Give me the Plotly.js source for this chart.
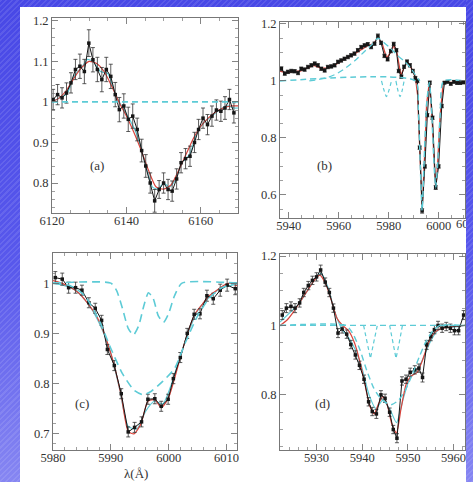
<!DOCTYPE html>
<html><head><meta charset="utf-8">
<script src="https://cdn.plot.ly/plotly-3.0.1.min.js"></script>
<style>
html,body{margin:0;padding:0;width:473px;height:482px;overflow:hidden;}
.blue{background:
 repeating-linear-gradient(135deg, rgba(255,255,255,0.10) 0 1.5px, rgba(255,255,255,0) 1.5px 4px),
 linear-gradient(to bottom, #4848e6 0%, #5858ec 55%, #8686f2 100%);}
#bg{position:absolute;left:0;top:0;width:473px;height:482px;}
#white{position:absolute;left:20px;top:7px;width:446px;height:475px;background:#fff;}
#plot{position:absolute;left:0;top:0;width:473px;height:482px;}
#rband{position:absolute;left:466px;top:0;width:7px;height:482px;z-index:10;}
</style>
</head><body>
<div id="bg" class="blue"></div>
<div id="white"></div>
<div id="plot"></div>
<div id="rband" class="blue"></div>
<script>
// ---- Panel (a) ----
const aLam=[6120.3,6121.5,6122.7,6123.9,6125.1,6126.3,6127.5,6128.7,6129.9,6131.0,6132.2,6133.4,6134.6,6135.8,6137.0,6138.1,6139.3,6140.5,6141.7,6142.9,6144.1,6145.2,6146.4,6147.6,6148.8,6150.0,6151.2,6152.3,6153.5,6154.7,6155.9,6157.1,6158.3,6159.4,6160.6,6161.8,6163.0,6164.2,6165.4,6166.5,6167.7,6168.9];
const aFlux=[1.006,1.018,1.01,1.022,1.047,1.08,1.088,1.075,1.145,1.104,1.08,1.055,1.08,1.063,1.018,0.981,0.99,0.957,0.965,0.932,0.88,0.842,0.80,0.756,0.784,0.80,0.784,0.78,0.81,0.85,0.86,0.866,0.90,0.932,0.96,0.944,0.965,0.98,0.977,0.985,1.006,0.973];
const aErr=[0.025,0.025,0.025,0.025,0.025,0.025,0.03,0.03,0.033,0.03,0.03,0.03,0.03,0.03,0.03,0.03,0.03,0.03,0.03,0.028,0.028,0.028,0.025,0.028,0.022,0.025,0.025,0.025,0.025,0.025,0.025,0.025,0.025,0.025,0.025,0.025,0.025,0.025,0.025,0.028,0.025,0.025];
const aRedLam=[6120,6122,6124,6126,6128,6130,6132,6134,6136,6138,6140,6142,6144,6146,6148,6150,6152,6154,6156,6158,6160,6162,6164,6166,6168,6170];
const aRed=[1.0,1.01,1.03,1.06,1.085,1.10,1.095,1.075,1.04,1.0,0.965,0.925,0.88,0.83,0.79,0.785,0.795,0.83,0.87,0.91,0.94,0.96,0.975,0.985,0.99,0.99];
const aCyanLam=[6120,6122,6124,6126,6128,6129.5,6131,6133,6135,6137,6139,6141,6143,6145,6147,6148.5,6150,6151.5,6153,6155,6157,6159,6161,6163,6165,6167,6169,6170];
const aCyan=[1.0,1.01,1.02,1.065,1.085,1.105,1.1,1.075,1.07,1.02,0.985,0.955,0.915,0.85,0.79,0.785,0.80,0.79,0.805,0.85,0.87,0.925,0.95,0.965,0.98,0.99,0.985,0.985];
const aContLam=[6120,6170];
const aCont=[1.0,1.0];

// ---- Panel (b) ----
const bLam=[5937.04,5938.40,5939.66,5941.01,5942.37,5943.72,5944.98,5946.34,5947.69,5949.04,5950.40,5951.66,5953.01,5954.37,5955.63,5956.98,5958.34,5959.69,5960.96,5962.31,5963.66,5964.93,5966.28,5967.63,5968.99,5970.34,5971.60,5972.96,5974.31,5975.66,5976.93,5978.28,5979.54,5980.81,5981.98,5983.06,5983.97,5985.05,5986.13,5987.31,5988.48,5989.65,5990.64,5991.46,5992.36,5993.35,5994.44,5995.43,5996.42,5997.50,5998.77,5999.94,6001.20,6002.29,6003.55,6004.81,6006.08,6007.34,6008.60,6009.87];
const bFlux=[1.043,1.026,1.032,1.035,1.034,1.028,1.043,1.04,1.049,1.055,1.061,1.055,1.043,1.037,1.049,1.051,1.055,1.067,1.072,1.078,1.084,1.09,1.096,1.108,1.119,1.125,1.129,1.119,1.131,1.158,1.134,1.088,1.076,1.105,1.13,1.108,1.035,1.015,1.05,1.068,1.055,1.035,1.01,1.0,0.766,0.544,0.70,0.88,0.994,0.871,0.626,0.70,0.912,0.994,0.997,0.99,0.997,0.993,0.993,0.995];
const bErr=[0.007,0.006,0.006,0.006,0.006,0.006,0.006,0.006,0.006,0.006,0.006,0.006,0.006,0.006,0.006,0.006,0.006,0.006,0.006,0.006,0.006,0.006,0.006,0.006,0.006,0.006,0.006,0.006,0.006,0.007,0.006,0.006,0.006,0.006,0.006,0.006,0.006,0.006,0.006,0.006,0.006,0.006,0.006,0.006,0.006,0.008,0.006,0.006,0.006,0.006,0.007,0.006,0.006,0.005,0.005,0.005,0.005,0.005,0.005,0.005];
const bRedLam=[5936.5,5939.21,5941.91,5944.62,5947.33,5950.04,5952.74,5955.45,5958.16,5960.86,5963.57,5966.28,5968.99,5971.69,5973.95,5975.75,5977.56,5979.18,5980.72,5982.07,5983.24,5984.87,5986.31,5987.40,5989.02,5990.64,5991.55,5992.45,5993.35,5994.26,5995.16,5996.24,5997.33,5998.14,5998.77,5999.49,6000.57,6001.74,6002.83,6010.5];
const bRed=[1.035,1.028,1.033,1.035,1.045,1.055,1.045,1.045,1.055,1.07,1.083,1.095,1.11,1.125,1.13,1.155,1.125,1.08,1.1,1.125,1.1,1.02,1.05,1.065,1.045,1.015,0.95,0.73,0.55,0.72,0.92,0.995,0.87,0.72,0.625,0.70,0.88,0.99,0.995,0.995];
const bContLam=[5936.5,5990.64,5991.82,5992.63,5993.35,5994.07,5995.16,5996.24,5997.23,5998.05,5998.77,5999.49,6000.57,6001.92,6010.5];
const bCont=[1.0,1.0,0.9,0.7,0.545,0.7,0.92,0.995,0.88,0.72,0.625,0.70,0.88,1.0,1.0];
const bEmLam=[5948.23,5951.84,5955.45,5959.06,5962.67,5966.28,5969.89,5973.50,5975.75,5978.01,5980.72,5983.42,5986.13,5988.84,5991.10,5992.45];
const bEm=[1.0,1.005,1.012,1.025,1.045,1.07,1.10,1.13,1.15,1.135,1.115,1.09,1.07,1.045,1.015,1.0];
const bDip1Lam=[5977.11,5978.01,5979.09,5980.18,5981.08];
const bDip1=[1.0,0.97,0.945,0.97,1.0];
const bDip2Lam=[5982.88,5983.70,5984.51,5985.32,5986.13];
const bDip2=[1.0,0.965,0.945,0.965,1.0];
const bCutLabel='6020';

// ---- Panel (c) ----
const cLam=[5980.4,5981.6,5982.7,5983.9,5985.0,5986.2,5987.3,5988.4,5989.4,5990.6,5991.8,5993.0,5994.1,5995.3,5996.4,5997.6,5998.7,5999.9,6000.8,6002.0,6003.2,6004.4,6005.4,6006.6,6007.7,6008.9,6010.1,6011.5];
const cFlux=[1.011,1.008,0.991,0.991,0.986,0.961,0.95,0.926,0.868,0.836,0.78,0.704,0.713,0.724,0.769,0.77,0.755,0.769,0.81,0.852,0.9,0.938,0.939,0.975,0.969,0.986,0.996,0.989];
const cErr=[0.012,0.012,0.011,0.011,0.01,0.01,0.01,0.01,0.01,0.01,0.01,0.01,0.01,0.01,0.01,0.01,0.01,0.01,0.01,0.01,0.01,0.01,0.01,0.011,0.011,0.012,0.012,0.012];
const cRedLam=[5980,5981.5,5983,5984.5,5986,5987.5,5989,5990.5,5991.8,5993,5994,5995.2,5996.4,5997.6,5998.7,5999.9,6001,6002.2,6003.4,6004.6,6005.8,6007,6008.2,6009.4,6010.5,6011.8];
const cRed=[1.005,1.0,0.992,0.98,0.96,0.935,0.895,0.84,0.775,0.705,0.70,0.72,0.765,0.768,0.752,0.77,0.81,0.86,0.905,0.94,0.958,0.975,0.985,0.995,1.0,0.995];
const cCyanLam=[5980,5982,5984,5986,5988,5990,5991.5,5993,5994.5,5996,5997.5,5999,6000.5,6002,6003.5,6005,6007,6009,6011.8];
const cCyan=[1.0,0.995,0.985,0.96,0.92,0.86,0.79,0.715,0.71,0.745,0.765,0.76,0.80,0.855,0.905,0.945,0.972,0.99,0.998];
const cBroadLam=[5980,5983,5985.5,5988,5990,5992,5994,5995.6,5997,5999,6001,6003,6005,6007,6009,6011.8];
const cBroad=[1.0,0.995,0.975,0.925,0.87,0.82,0.787,0.778,0.785,0.805,0.83,0.885,0.935,0.97,0.99,1.0];
const cNarrowLam=[5980,5990,5991,5992,5993,5993.9,5994.8,5995.7,5996.5,5997.3,5998.2,5999.1,6000,6001,6002.3,6011.8];
const cNarrow=[1.0,1.0,0.985,0.95,0.91,0.897,0.915,0.955,0.981,0.97,0.935,0.922,0.94,0.975,1.0,1.0];

// ---- Panel (d) ----
const dLam=[5922.5,5923.4,5924.4,5925.3,5926.3,5927.2,5928.2,5929.1,5930.0,5930.9,5931.9,5932.8,5933.7,5934.7,5935.6,5936.6,5937.5,5938.5,5939.4,5940.4,5941.4,5942.2,5943.1,5944.1,5945.0,5946.0,5946.8,5947.6,5948.7,5949.6,5950.5,5951.5,5952.4,5953.2,5954.1,5955.0,5955.8,5956.6,5957.5,5958.4,5959.3,5960.2,5961.1,5962.2];
const dFlux=[1.03,1.05,1.055,1.05,1.065,1.095,1.115,1.13,1.14,1.16,1.125,1.095,1.05,0.978,0.99,0.975,0.945,0.915,0.885,0.845,0.78,0.752,0.745,0.80,0.79,0.75,0.70,0.675,0.84,0.845,0.865,0.872,0.877,0.85,0.944,0.968,0.988,1.0,0.992,0.997,0.992,0.985,0.985,1.03];
const dErr=[0.013,0.013,0.013,0.013,0.012,0.012,0.012,0.012,0.012,0.014,0.012,0.012,0.012,0.013,0.012,0.012,0.012,0.012,0.012,0.012,0.012,0.012,0.013,0.012,0.012,0.012,0.012,0.013,0.012,0.012,0.012,0.012,0.012,0.013,0.013,0.012,0.012,0.012,0.012,0.012,0.012,0.012,0.012,0.013];
const dRedLam=[5922,5923.5,5925,5926.5,5928,5929.5,5930.7,5932,5933.3,5934.5,5935.7,5937,5938.3,5939.5,5940.6,5941.6,5942.6,5943.6,5944.5,5945.5,5946.5,5947.5,5948.5,5949.6,5950.8,5952,5953.2,5954.4,5955.6,5957,5959,5962.5];
const dRed=[1.0,1.015,1.04,1.07,1.1,1.13,1.145,1.12,1.07,1.02,1.0,0.985,0.95,0.895,0.83,0.77,0.745,0.775,0.795,0.77,0.715,0.69,0.76,0.83,0.855,0.865,0.9,0.945,0.975,0.99,0.995,1.0];
const dCyanLam=[5922,5924,5926,5928,5930,5931,5932.5,5934,5935.5,5937,5938.5,5940,5941.5,5943,5944.5,5946,5947.5,5949,5950.5,5952,5953.5,5955,5956.5,5958,5960,5962.5];
const dCyan=[1.01,1.035,1.06,1.1,1.14,1.15,1.11,1.04,0.99,0.965,0.93,0.875,0.8,0.76,0.785,0.76,0.72,0.79,0.85,0.87,0.91,0.955,0.985,0.995,0.995,1.0];
const dBroadLam=[5922,5936.5,5938,5939.5,5941,5942.5,5944,5945.5,5946.5,5948,5949.5,5951,5952.5,5954,5955.5,5957,5962.5];
const dBroad=[1.0,1.0,0.975,0.93,0.87,0.82,0.79,0.775,0.772,0.785,0.815,0.86,0.91,0.955,0.985,1.0,1.0];
const dDip1Lam=[5940.3,5941.1,5941.8,5942.5,5943.3];
const dDip1=[1.0,0.95,0.905,0.95,1.0];
const dDip2Lam=[5946.0,5946.7,5947.4,5948.1,5948.8];
const dDip2=[1.0,0.95,0.905,0.95,1.0];

const panelLabels=['(a)','(b)','(c)','(d)'];
const xTitle='λ(Å)';

const CYAN='#5dcbd6', RED='#d8433b', INK='#161616';
const FONT='Liberation Serif, DejaVu Serif, serif';
function ax(n){return n===1?'':String(n);}
function dataTrace(x,y,err,n){
  return {x:x,y:y,xaxis:'x'+ax(n),yaxis:'y'+ax(n),type:'scatter',mode:'lines+markers',
    line:{color:INK,width:1},marker:{symbol:'square',size:3.5,color:INK},
    error_y:{type:'data',array:err,visible:true,color:'#333',thickness:0.8,width:2},
    hoverinfo:'skip',cliponaxis:true};
}
function lineTrace(x,y,color,dash,n,w,spline){
  return {x:x,y:y,xaxis:'x'+ax(n),yaxis:'y'+ax(n),type:'scatter',mode:'lines',
    line:{color:color,width:w||1.2,dash:dash||'solid',shape:spline?'spline':'linear',smoothing:0.6},
    hoverinfo:'skip'};
}
const DASH='6px,4px';
const traces=[
  lineTrace(aCyanLam,aCyan,CYAN,'solid',1,1.2,true),
  lineTrace(aRedLam,aRed,RED,'solid',1,1.2,true),
  dataTrace(aLam,aFlux,aErr,1),
  lineTrace(aContLam,aCont,CYAN,DASH,1,1.6,false),

  lineTrace(bRedLam,bRed,RED,'solid',2,1.3,false),
  dataTrace(bLam,bFlux,bErr,2),
  lineTrace(bContLam,bCont,CYAN,DASH,2,1.5,true),
  lineTrace(bEmLam,bEm,CYAN,DASH,2,1.3,true),
  lineTrace(bDip1Lam,bDip1,CYAN,'4px,3px',2,1.2,true),
  lineTrace(bDip2Lam,bDip2,CYAN,'4px,3px',2,1.2,true),

  lineTrace(cCyanLam,cCyan,CYAN,'solid',3,1.2,true),
  lineTrace(cRedLam,cRed,RED,'solid',3,1.2,true),
  dataTrace(cLam,cFlux,cErr,3),
  lineTrace(cBroadLam,cBroad,CYAN,'8px,5px',3,1.6,true),
  lineTrace(cNarrowLam,cNarrow,CYAN,'8px,5px',3,1.6,true),

  lineTrace(dCyanLam,dCyan,CYAN,'solid',4,1.2,true),
  lineTrace(dRedLam,dRed,RED,'solid',4,1.2,true),
  dataTrace(dLam,dFlux,dErr,4),
  lineTrace(dBroadLam,dBroad,CYAN,DASH,4,1.4,true),
  lineTrace(dDip1Lam,dDip1,CYAN,'4px,3px',4,1.2,false),
  lineTrace(dDip2Lam,dDip2,CYAN,'4px,3px',4,1.2,false),
  lineTrace([5922,5962.5],[1,1],CYAN,DASH,4,1.3,false)
];
const W=473,H=482;
function dom(a,b,s){return [a/s,b/s];}
function ydom(top,bot){return [1-bot/H,1-top/H];}
function axis(domain,range,dtick,minor,anchor,isX){
  return {domain:domain,range:range,dtick:dtick,tick0:0,ticks:'inside',ticklen:6,tickwidth:0.8,tickcolor:'#666',
    showline:true,linecolor:'#777',linewidth:1,mirror:'allticks',showgrid:false,zeroline:false,
    minor:{ticks:'inside',ticklen:3,dtick:minor,tick0:0,tickcolor:'#777',tickwidth:0.7,showgrid:false},
    ticklabelstandoff:isX?-4:0,
    tickfont:{family:FONT,size:12.5,color:'#333'},anchor:anchor,fixedrange:true};
}
const AF={family:FONT,size:13,color:'#333'};
const layout={
  width:W,height:H,margin:{l:0,r:0,t:0,b:0},showlegend:false,
  paper_bgcolor:'rgba(0,0,0,0)',plot_bgcolor:'#ffffff',
  xaxis: axis(dom(52,238,W),[6120,6170],20,5,'y',true),
  yaxis: axis(ydom(18,213),[0.726,1.207],0.1,0.02,'x',false),
  xaxis2:axis(dom(280,465,W),[5936.5,6010.5],20,5,'y2',true),
  yaxis2:axis(ydom(22,218),[0.519,1.207],0.2,0.05,'x2',false),
  xaxis3:axis(dom(53,237,W),[5980,6011.8],10,2,'y3',true),
  yaxis3:axis(ydom(253,450),[0.668,1.06],0.1,0.02,'x3',false),
  xaxis4:axis(dom(280,465,W),[5922,5962.5],10,2,'y4',true),
  yaxis4:axis(ydom(254,450),[0.641,1.206],0.2,0.05,'x4',false),
  annotations:[
    {text:panelLabels[0],x:6132.1,y:0.844,xref:'x',yref:'y',showarrow:false,font:AF},
    {text:panelLabels[1],x:5954.4,y:0.704,xref:'x2',yref:'y2',showarrow:false,font:AF},
    {text:panelLabels[2],x:5985.0,y:0.76,xref:'x3',yref:'y3',showarrow:false,font:AF},
    {text:panelLabels[3],x:5931.4,y:0.776,xref:'x4',yref:'y4',showarrow:false,font:AF},
    {text:xTitle,x:136/W,y:1-473/H,xref:'paper',yref:'paper',xanchor:'center',yanchor:'middle',showarrow:false,font:AF},
    {text:bCutLabel,x:454/W,y:1-224/H,xref:'paper',yref:'paper',xanchor:'left',yanchor:'middle',showarrow:false,font:{family:FONT,size:12.5,color:'#333'}}
  ]
};
Plotly.newPlot('plot',traces,layout,{staticPlot:true,displayModeBar:false});
</script>
</body></html>
